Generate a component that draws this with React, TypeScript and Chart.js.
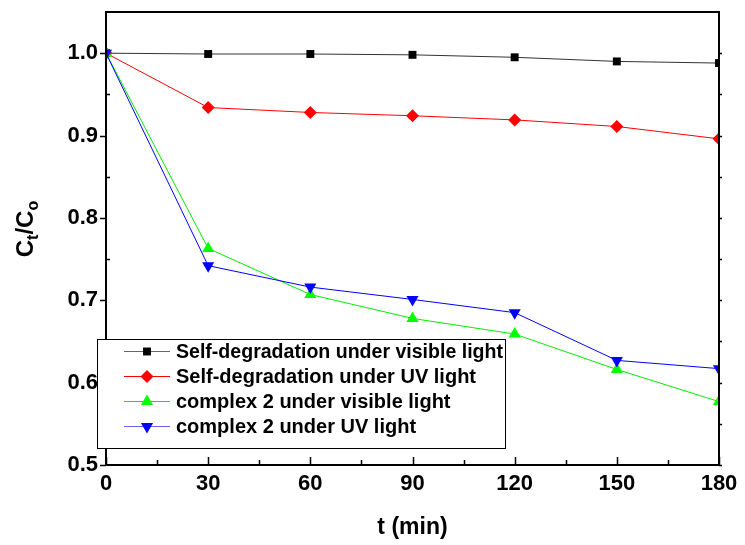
import React, { useEffect, useRef } from "react";
import { Chart, registerables } from "chart.js";

Chart.register(...registerables);

// Degradation data: relative concentration Ct/C0 over irradiation time
const times = [0, 30, 60, 90, 120, 150, 180];
const selfVisible = [1.0, 0.999, 0.999, 0.998, 0.995, 0.990, 0.988];
const selfUV = [1.0, 0.934, 0.928, 0.924, 0.919, 0.911, 0.896];
const complexVisible = [1.0, 0.763, 0.707, 0.678, 0.659, 0.616, 0.577];
const complexUV = [1.0, 0.742, 0.716, 0.701, 0.685, 0.627, 0.617];

const seriesLabels = [
  "Self-degradation under visible light",
  "Self-degradation under UV light",
  "complex 2 under visible light",
  "complex 2 under UV light",
];

const yTickValues = [0.5, 0.6, 0.7, 0.8, 0.9, 1.0];
const xTickValues = [0, 30, 60, 90, 120, 150, 180];

const FONT = "'Liberation Sans', Arial, sans-serif";

function drawMarker(
  ctx: CanvasRenderingContext2D,
  style: string,
  r: number,
  rotation: number,
  x: number,
  y: number
) {
  ctx.save();
  ctx.translate(x, y);
  ctx.rotate((rotation * Math.PI) / 180);
  ctx.beginPath();
  if (style === "rect") {
    const s = Math.SQRT1_2 * r;
    ctx.rect(-s, -s, 2 * s, 2 * s);
  } else if (style === "rectRot") {
    ctx.moveTo(0, -r);
    ctx.lineTo(r, 0);
    ctx.lineTo(0, r);
    ctx.lineTo(-r, 0);
    ctx.closePath();
  } else {
    for (let k = 0; k < 3; k++) {
      const a = (k * 2 * Math.PI) / 3;
      const px = Math.sin(a) * r;
      const py = -Math.cos(a) * r;
      if (k === 0) ctx.moveTo(px, py);
      else ctx.lineTo(px, py);
    }
    ctx.closePath();
  }
  ctx.fill();
  ctx.restore();
}

// Frame, tick marks, y-axis title with subscripts and the boxed legend
const decorations = {
  id: "decorations",
  afterDraw(chart: any) {
    const ctx = chart.ctx as CanvasRenderingContext2D;
    const { left, right, top, bottom } = chart.chartArea;
    const xs = chart.scales.x;
    const ys = chart.scales.y;
    ctx.save();

    // frame
    ctx.strokeStyle = "#000";
    ctx.lineWidth = 2;
    ctx.strokeRect(left, top, right - left, bottom - top);

    // y ticks: major outward on the left, minor inward; small ticks on the right
    ctx.lineWidth = 1.5;
    ctx.beginPath();
    for (let i = 0; i < yTickValues.length; i++) {
      const v = yTickValues[i];
      const py = Math.round(ys.getPixelForValue(v)) + 0.5;
      ctx.moveTo(left - 6, py);
      ctx.lineTo(left, py);
      ctx.moveTo(right, py);
      ctx.lineTo(right + 3, py);
      const half = v + (yTickValues[1] - yTickValues[0]) / 2;
      if (ys.getPixelForValue(half) > top) {
        const pm = Math.round(ys.getPixelForValue(half)) + 0.5;
        ctx.moveTo(left, pm);
        ctx.lineTo(left + 4, pm);
        ctx.moveTo(right, pm);
        ctx.lineTo(right + 3, pm);
      }
    }
    // x ticks: pointing up into the plot
    for (let i = 0; i < xTickValues.length; i++) {
      const v = xTickValues[i];
      const px = Math.round(xs.getPixelForValue(v)) + 0.5;
      ctx.moveTo(px, bottom);
      ctx.lineTo(px, bottom - 8);
      if (i < xTickValues.length - 1) {
        const mid = (v + xTickValues[i + 1]) / 2;
        const pm = Math.round(xs.getPixelForValue(mid)) + 0.5;
        ctx.moveTo(pm, bottom);
        ctx.lineTo(pm, bottom - 5);
      }
    }
    ctx.stroke();

    // y-axis title: C_t / C_o
    ctx.save();
    ctx.translate(33, 229);
    ctx.rotate(-Math.PI / 2);
    ctx.fillStyle = "#000";
    ctx.textBaseline = "alphabetic";
    ctx.textAlign = "left";
    const big = `bold 24px ${FONT}`;
    const small = `bold 16px ${FONT}`;
    const parts: [string, string, number][] = [
      ["C", big, 0],
      ["t", small, 5],
      ["/C", big, 0],
      ["o", small, 5],
    ];
    let total = 0;
    for (const [t, f] of parts) {
      ctx.font = f;
      total += ctx.measureText(t).width;
    }
    let cx = -total / 2;
    for (const [t, f, dy] of parts) {
      ctx.font = f;
      ctx.fillText(t, cx, dy);
      cx += ctx.measureText(t).width;
    }
    ctx.restore();

    // legend box
    const bx = 97, by = 339, bw = 408, bh = 109;
    ctx.fillStyle = "#fff";
    ctx.fillRect(bx, by, bw, bh);
    ctx.strokeStyle = "#000";
    ctx.lineWidth = 1;
    ctx.strokeRect(bx + 0.5, by + 0.5, bw, bh);

    const sets = chart.data.datasets;
    for (let i = 0; i < sets.length; i++) {
      const ds = sets[i];
      const rowY = 351.5 + i * 25;
      ctx.strokeStyle = ds.legendLine;
      ctx.lineWidth = 1;
      ctx.beginPath();
      ctx.moveTo(124, rowY);
      ctx.lineTo(170, rowY);
      ctx.stroke();
      ctx.fillStyle = ds.pointBackgroundColor;
      drawMarker(ctx, ds.pointStyle, ds.pointRadius, ds.pointRotation || 0, 147, rowY);
      ctx.fillStyle = "#000";
      ctx.font = `bold 20px ${FONT}`;
      ctx.textBaseline = "middle";
      ctx.textAlign = "left";
      ctx.fillText(ds.label, 176, rowY + 1, 327);
    }
    ctx.restore();
  },
};

export default function App() {
  const canvasRef = useRef<HTMLCanvasElement | null>(null);

  useEffect(() => {
    const canvas = canvasRef.current;
    if (!canvas) return;
    const toPoints = (vals: number[]) => times.map((t, i) => ({ x: t, y: vals[i] }));

    const chart = new Chart(canvas, {
      type: "line",
      data: {
        datasets: [
          {
            label: seriesLabels[0],
            data: toPoints(selfVisible),
            borderColor: "#333333",
            legendLine: "#666666",
            borderWidth: 1,
            pointStyle: "rect",
            pointRadius: 5.6,
            pointBackgroundColor: "#000000",
            pointBorderColor: "#000000",
            pointBorderWidth: 0,
            order: 3,
          },
          {
            label: seriesLabels[1],
            data: toPoints(selfUV),
            borderColor: "#ff0000",
            legendLine: "#ff0000",
            borderWidth: 1,
            pointStyle: "rectRot",
            pointRadius: 6.5,
            pointBackgroundColor: "#ff0000",
            pointBorderColor: "#ff0000",
            pointBorderWidth: 0,
            order: 2,
          },
          {
            label: seriesLabels[2],
            data: toPoints(complexVisible),
            borderColor: "#00ee00",
            legendLine: "#00ee00",
            borderWidth: 1,
            pointStyle: "triangle",
            pointRadius: 7,
            pointBackgroundColor: "#00ff00",
            pointBorderColor: "#00ff00",
            pointBorderWidth: 0,
            order: 1,
          },
          {
            label: seriesLabels[3],
            data: toPoints(complexUV),
            borderColor: "#0000ff",
            legendLine: "#6666ff",
            borderWidth: 1,
            pointStyle: "triangle",
            pointRotation: 180,
            pointRadius: 7,
            pointBackgroundColor: "#0000ff",
            pointBorderColor: "#0000ff",
            pointBorderWidth: 0,
            order: 0,
          },
        ] as any,
      },
      options: {
        animation: false,
        responsive: false,
        layout: { padding: { left: 0, right: 26, top: 12, bottom: 0 } },
        plugins: {
          legend: { display: false },
          tooltip: { enabled: false },
        },
        elements: { line: { tension: 0 } },
        scales: {
          x: {
            type: "linear",
            min: 0,
            max: 180,
            afterFit: (s: any) => {
              s.height = 80;
              s.paddingLeft = 0;
              s.paddingRight = 0;
            },
            afterBuildTicks: (s: any) => {
              s.ticks = xTickValues.map((v) => ({ value: v }));
            },
            grid: { display: false, drawTicks: false },
            border: { display: false },
            ticks: {
              padding: 6,
              color: "#000",
              font: { family: FONT, size: 22, weight: "bold" },
              maxRotation: 0,
              callback: (v: any) => String(v),
            },
            title: {
              display: true,
              text: "t (min)",
              color: "#000",
              font: { family: FONT, size: 23, weight: "bold" },
              padding: { top: 0, bottom: 4 },
            },
          },
          y: {
            type: "linear",
            min: 0.5,
            max: 1.05,
            afterFit: (s: any) => {
              s.width = 106;
              s.paddingTop = 0;
              s.paddingBottom = 0;
            },
            afterBuildTicks: (s: any) => {
              s.ticks = yTickValues.map((v) => ({ value: v }));
            },
            grid: { display: false, drawTicks: false },
            border: { display: false },
            ticks: {
              padding: 8,
              color: "#000",
              font: { family: FONT, size: 22, weight: "bold" },
              callback: (v: any) => Number(v).toFixed(1),
            },
          },
        },
      },
      plugins: [decorations],
    });

    return () => chart.destroy();
  }, []);

  return (
    <div style={{ position: "absolute", left: 0, top: 0, width: 745, height: 545, background: "#fff" }}>
      <canvas ref={canvasRef} width={745} height={545} />
    </div>
  );
}
